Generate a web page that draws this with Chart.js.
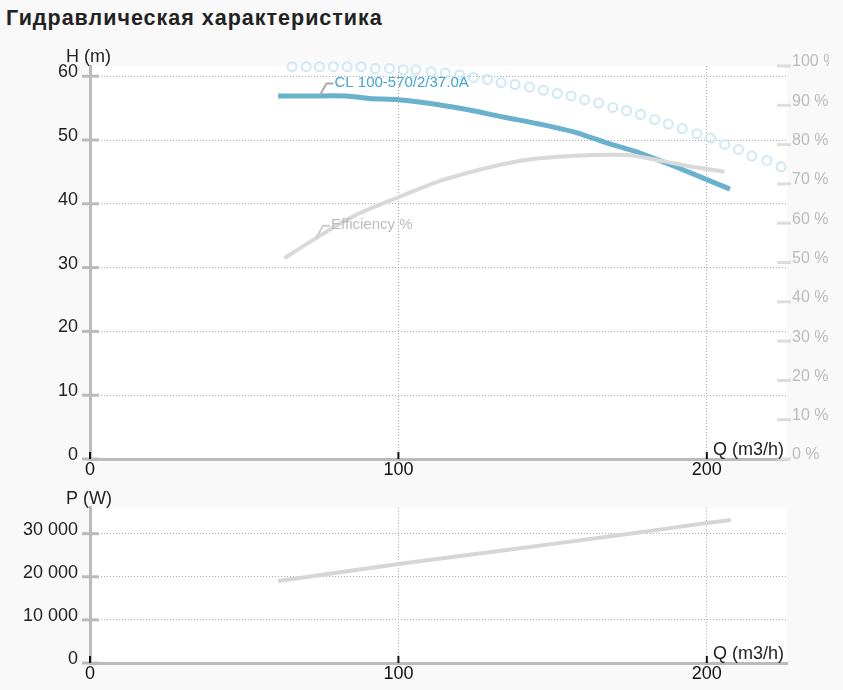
<!DOCTYPE html>
<html>
<head>
<meta charset="utf-8">
<script src="https://cdn.jsdelivr.net/npm/chart.js@4.4.0/dist/chart.umd.min.js"></script>
<style>
  html, body { margin: 0; padding: 0; background: #f9f9f9; }
  body { width: 843px; height: 690px; position: relative; overflow: hidden; font-family: "Liberation Sans", Arial, sans-serif; }
  h1 { position: absolute; left: 6px; top: 8px; margin: 0; font-size: 21.5px; line-height: 1; letter-spacing: 1px; font-weight: bold; color: #222; }
  .wrap { position: absolute; left: 0; width: 829px; }
  #headWrap { top: 0; height: 485px; }
  #powerWrap { top: 485px; height: 205px; }
</style>
</head>
<body>
<h1>Гидравлическая характеристика</h1>
<div class="wrap" id="headWrap"><canvas id="headChart"></canvas></div>
<div class="wrap" id="powerWrap"><canvas id="powerChart"></canvas></div>
<script>
// Q-H curve of the pump (m)
const headQ = [61, 70, 83, 90.6, 100, 112, 123, 134, 145.7, 156.5, 167.3, 178.1, 186.8, 196.5, 207.5];
const headH = [56.9, 56.9, 56.9, 56.5, 56.3, 55.6, 54.7, 53.6, 52.5, 51.3, 49.6, 48.0, 46.4, 44.5, 42.3];

// dotted curve (max head, m)
const maxQ = [65.5, 70.1, 74.4, 78.9, 83.4, 87.9, 92.5, 97.1, 101.6, 105.7, 110.6, 115.2, 119.8, 124.3,
  128.9, 133.3, 137.8, 142.5, 147.0, 151.5, 156.0, 160.4, 164.9, 169.5, 174.0, 178.5, 183.1, 187.5,
  192.0, 196.8, 201.2, 205.8, 210.3, 214.6, 219.5, 224.1];
const maxH = [61.5, 61.5, 61.5, 61.5, 61.5, 61.5, 61.2, 61.2, 61.0, 61.0, 60.7, 60.5, 60.2, 59.8,
  59.5, 59.0, 58.7, 58.3, 57.8, 57.3, 56.9, 56.3, 55.8, 55.1, 54.6, 54.0, 53.2, 52.5,
  51.8, 51.0, 50.3, 49.3, 48.5, 47.5, 46.8, 45.8];

// efficiency (%)
const effQ = [63, 73.3, 85.2, 100, 114.4, 121.9, 133.8, 145.7, 161.9, 174.9, 185.7, 194.3, 205.7];
const effE = [51.1, 56.2, 61.7, 66.6, 71.0, 72.7, 75.0, 76.5, 77.3, 77.3, 75.8, 74.5, 73.1];

// power (W)
const powerQ = [61, 100, 133.8, 175, 200, 207.8];
const powerP = [19000, 22950, 26100, 30000, 32450, 33150];

const qTicks = [0, 100, 200];
const hTicks = [0, 10, 20, 30, 40, 50, 60];
const effTicks = [0, 10, 20, 30, 40, 50, 60, 70, 80, 90, 100];
const pTicks = [0, 10000, 20000, 30000];
const qMax = 226;
const hMax = 61.6;
const pMax = 36000;

const curveLabels = [
  { text: 'CL 100-570/2/37.0A', q: 74.4, v: 56.9, axis: 'y', color: '#3ea4d6', line: '#aaa' },
  { text: 'Efficiency %', q: 73.3, v: 56.2, axis: 'eff', color: '#bbb', line: '#ccc' }
];

const FONT = '"Liberation Sans", Arial, sans-serif';
Chart.defaults.font.family = FONT;
Chart.defaults.font.size = 18;
Chart.defaults.color = '#222';

const xy = (xs, ys) => xs.map((x, i) => ({ x: x, y: ys[i] }));
const dots = [1, 2];
const spaced = v => String(v).replace(/\B(?=(\d{3})+(?!\d))/g, ' ');
const fixTicks = list => s => { s.ticks = list.map(v => ({ value: v })); };

// white plot area, tick marks, axis titles, curve labels
const decor = {
  id: 'decor',
  beforeDraw(chart) {
    const { ctx, chartArea: a } = chart;
    ctx.save();
    ctx.fillStyle = '#fff';
    ctx.fillRect(a.left, a.top, a.right - a.left, a.bottom - a.top);
    ctx.restore();
  },
  afterDraw(chart, args, opts) {
    const { ctx, chartArea: a, scales } = chart;
    ctx.save();
    ctx.lineWidth = 3;
    ctx.strokeStyle = '#bbb';
    scales.y.ticks.forEach(t => {
      const y = scales.y.getPixelForValue(t.value);
      ctx.beginPath(); ctx.moveTo(a.left - 8, y); ctx.lineTo(a.left + 9, y); ctx.stroke();
    });
    if (scales.eff) {
      ctx.strokeStyle = '#ddd';
      scales.eff.ticks.forEach(t => {
        const y = scales.eff.getPixelForValue(t.value);
        ctx.beginPath(); ctx.moveTo(a.right - 10, y); ctx.lineTo(a.right + 4, y); ctx.stroke();
      });
    }
    ctx.lineWidth = 2;
    ctx.strokeStyle = '#111';
    scales.x.ticks.forEach(t => {
      const x = scales.x.getPixelForValue(t.value);
      ctx.beginPath(); ctx.moveTo(x, a.bottom - 7); ctx.lineTo(x, a.bottom); ctx.stroke();
    });

    ctx.font = '18px ' + FONT;
    ctx.fillStyle = '#222';
    ctx.textBaseline = 'middle';
    ctx.textAlign = 'left';
    ctx.fillText(opts.yTitle, a.left - 24, a.top - 8.5);
    ctx.textAlign = 'right';
    ctx.fillText('Q (m3/h)', a.right - 3, a.bottom - 9);

    (opts.labels || []).forEach(l => {
      const px = scales.x.getPixelForValue(l.q);
      const py = scales[l.axis].getPixelForValue(l.v);
      ctx.strokeStyle = l.line;
      ctx.lineWidth = 2;
      ctx.beginPath();
      ctx.moveTo(px, py);
      ctx.lineTo(px + 7, py - 12.5);
      ctx.lineTo(px + 14, py - 12.5);
      ctx.stroke();
      ctx.font = '15px ' + FONT;
      ctx.fillStyle = l.color;
      ctx.textAlign = 'left';
      ctx.fillText(l.text, px + 15, py - 13);
    });
    ctx.restore();
  }
};

function qAxis(h) {
  return {
    type: 'linear', min: 0, max: qMax,
    afterBuildTicks: fixTicks(qTicks),
    ticks: { padding: 0, color: '#111', maxRotation: 0 },
    grid: { color: '#aaa', lineWidth: 1, drawTicks: false },
    border: { color: '#bbb', width: 3, dash: dots },
    afterFit: s => { s.height = h; }
  };
}

function yAxis(max, list, fmt) {
  return {
    min: 0, max: max,
    afterBuildTicks: fixTicks(list),
    ticks: { padding: 12, labelOffset: -4, color: '#222', callback: fmt },
    grid: { color: '#aaa', lineWidth: 1, drawTicks: false },
    border: { color: '#bbb', width: 3, dash: dots },
    afterFit: s => { s.width = 90; }
  };
}

new Chart(document.getElementById('headChart'), {
  type: 'line',
  data: {
    datasets: [
      {
        label: 'max', data: xy(maxQ, maxH), yAxisID: 'y', showLine: false, clip: 8,
        pointRadius: 4.5, pointBorderWidth: 2, pointBorderColor: '#cfe8f5', pointBackgroundColor: 'rgba(255,255,255,0)'
      },
      {
        label: 'efficiency', data: xy(effQ, effE), yAxisID: 'eff',
        borderColor: '#d9d9d9', borderWidth: 4, pointRadius: 0, tension: 0.3
      },
      {
        label: 'CL 100-570/2/37.0A', data: xy(headQ, headH), yAxisID: 'y',
        borderColor: '#6ab1cd', borderWidth: 5, pointRadius: 0, tension: 0.3
      }
    ]
  },
  options: {
    responsive: true,
    maintainAspectRatio: false,
    animation: false,
    layout: { padding: { top: 66, left: 0, right: 0, bottom: 0 } },
    plugins: {
      legend: { display: false },
      tooltip: { enabled: false },
      decor: { yTitle: 'H (m)', labels: curveLabels }
    },
    scales: {
      x: qAxis(26),
      y: yAxis(hMax, hTicks),
      eff: {
        type: 'linear', position: 'right', min: 0, max: 100,
        afterBuildTicks: fixTicks(effTicks),
        ticks: { padding: 5, labelOffset: -4, color: '#bbb', font: { size: 16 }, callback: v => v + ' %' },
        grid: { drawOnChartArea: false, drawTicks: false },
        border: { display: false },
        afterFit: s => { s.width = 42; }
      }
    }
  },
  plugins: [decor]
});

new Chart(document.getElementById('powerChart'), {
  type: 'line',
  data: {
    datasets: [{
      label: 'P', data: xy(powerQ, powerP),
      borderColor: '#d6d6d6', borderWidth: 4, pointRadius: 0, tension: 0.3
    }]
  },
  options: {
    responsive: true,
    maintainAspectRatio: false,
    animation: false,
    layout: { padding: { top: 22, left: 0, right: 42, bottom: 0 } },
    plugins: {
      legend: { display: false },
      tooltip: { enabled: false },
      decor: { yTitle: 'P (W)' }
    },
    scales: {
      x: qAxis(27),
      y: yAxis(pMax, pTicks, spaced)
    }
  },
  plugins: [decor]
});
</script>
</body>
</html>
